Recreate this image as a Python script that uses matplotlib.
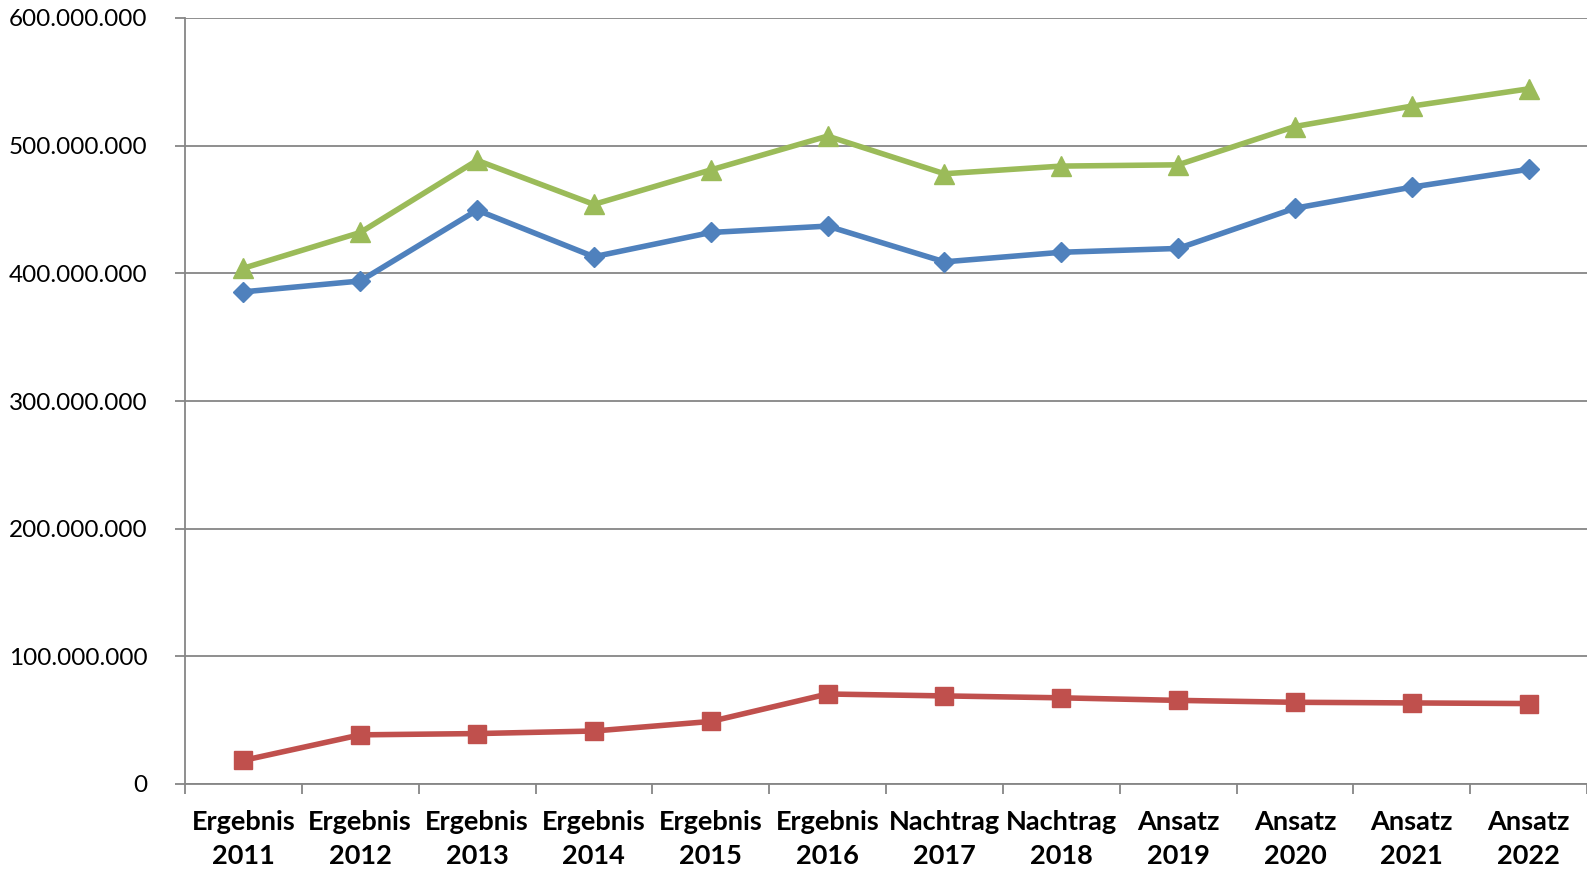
import matplotlib.pyplot as plt
from matplotlib.ticker import FuncFormatter, MultipleLocator
import numpy as np

# categories and series
categories = ['Ergebnis\n2011', 'Ergebnis\n2012', 'Ergebnis\n2013', 'Ergebnis\n2014',
              'Ergebnis\n2015', 'Ergebnis\n2016', 'Nachtrag\n2017', 'Nachtrag\n2018',
              'Ansatz\n2019', 'Ansatz\n2020', 'Ansatz\n2021', 'Ansatz\n2022']
blue_vals = [385.5e6, 394e6, 449.5e6, 413e6, 432e6, 437e6, 409e6, 416.5e6, 419.5e6, 451e6, 467.5e6, 481.5e6]
red_vals = [18.5e6, 38.5e6, 39.5e6, 41.5e6, 49e6, 70.5e6, 69e6, 67.5e6, 65.5e6, 64e6, 63.5e6, 63e6]
green_vals = [404e6, 432e6, 488.5e6, 454e6, 481e6, 507.5e6, 478e6, 484e6, 485e6, 515e6, 531e6, 544.5e6]

plt.rcParams['font.family'] = ['Lato', 'DejaVu Sans']

fig = plt.figure(figsize=(15.87, 8.73), dpi=100)
ax = fig.add_axes([185 / 1587, 1 - 784 / 873, 1 - 185 / 1587, (784 - 18) / 873])

x = np.arange(len(categories))
ax.plot(x, blue_vals, color='#4F81BD', lw=4, marker='D', ms=10.5, zorder=3)
ax.plot(x, red_vals, color='#C0504D', lw=4, marker='s', ms=13.5, zorder=3)
ax.plot(x, green_vals, color='#9BBB59', lw=4, marker='^', ms=14.5, zorder=3)

ax.set_xlim(-0.5, len(categories) - 0.5)
ax.set_ylim(0, 600e6)
ax.yaxis.set_major_locator(MultipleLocator(100e6))
ax.yaxis.set_major_formatter(FuncFormatter(lambda v, p: f"{int(v):,}".replace(",", ".")))
ax.grid(axis='y', color='#868686', lw=1.3)
ax.set_axisbelow(True)

ax.set_xticks(x)
ax.set_xticklabels(categories, fontweight='bold', fontsize=19.5, linespacing=1.5)
ax.set_xticks(np.arange(len(categories) + 1) - 0.5, minor=True)
ax.tick_params(axis='x', which='major', length=0, pad=19)
ax.tick_params(axis='x', which='minor', length=7, width=1.3, color='#868686')
ax.tick_params(axis='y', length=7, width=1.3, color='#868686', pad=20, labelsize=17.5)

for s in ['top', 'right']:
    ax.spines[s].set_visible(False)
for s in ['left', 'bottom']:
    ax.spines[s].set_color('#868686')
    ax.spines[s].set_linewidth(1.3)

plt.savefig('out.png', dpi=100)
